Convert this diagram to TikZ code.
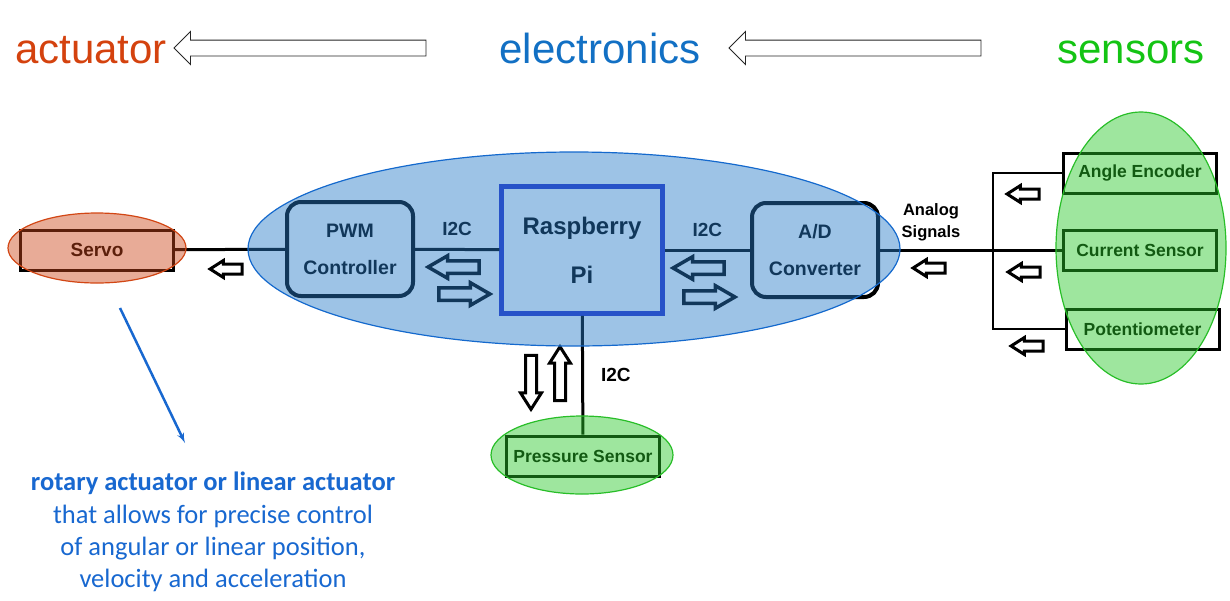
\documentclass[tikz,border=0pt]{standalone}
\usepackage{fontspec}
\setmainfont{Liberation Sans}
\newfontfamily\notefont{Carlito}
\usetikzlibrary{shapes,arrows,positioning}

\definecolor{actred}{RGB}{212,66,14}
\definecolor{elecblue}{RGB}{18,112,196}
\definecolor{sensgreen}{RGB}{20,196,20}
\definecolor{noteblue}{RGB}{24,104,208}
\definecolor{piblue}{RGB}{40,50,200}
\definecolor{actfill}{RGB}{205,70,25}
\definecolor{actedge}{RGB}{210,70,20}
\definecolor{elecfill}{RGB}{38,122,200}
\definecolor{elecedge}{RGB}{20,105,205}
\definecolor{sensfill}{RGB}{40,200,40}
\definecolor{sensedge}{RGB}{40,190,40}

\begin{document}
\begin{tikzpicture}[x=1pt, y=-1pt, auto, node distance=34pt, >=latex']
			\tikzset{
				title/.style={anchor=base, inner sep=0pt, font=\fontsize{42}{42}\selectfont},
				bigarrow/.style={single arrow, draw=black!85, line width=.9pt, fill=white, inner sep=0pt, inner ysep=7.5pt, single arrow head extend=8.5pt, minimum height=252pt, shape border rotate=180},
				part/.style={rectangle, draw=black, line width=3pt, fill=white, minimum width=153pt, minimum height=40pt, inner sep=0pt, font=\bfseries\fontsize{17.5}{17.5}\selectfont},
				board/.style={rectangle, rounded corners=14pt, draw=black, line width=4pt, minimum width=126pt, minimum height=94pt, align=center, font=\bfseries\fontsize{19.5}{37}\selectfont},
				pi/.style={rectangle, draw=piblue, line width=4.5pt, minimum width=161pt, minimum height=127pt, align=center, font=\bfseries\fontsize{24}{49}\selectfont},
				tag/.style={inner sep=0pt, align=center, font=\bfseries\fontsize{19}{22}\selectfont},
				flow/.style={single arrow, draw=black, line width=3pt, fill=white, inner sep=0pt, inner ysep=3.5pt, single arrow head extend=3.5pt, single arrow tip angle=65, minimum height=32pt},
				bus/.style={flow, line width=3.5pt, inner ysep=4.5pt, single arrow head extend=5pt, single arrow tip angle=60, minimum height=51pt},
				wire/.style={line width=3pt},
				group/.style={ellipse, line width=1.2pt, fill opacity=.45, inner sep=0pt},
				pointer/.style={->, line width=2.5pt, draw=noteblue},
				note/.style={align=center, text=noteblue, font=\notefont\fontsize{26.5}{32.3}\selectfont},
			}
			\useasboundingbox (0,0) rectangle (1230,600);
			%headings
			\node[title, text=actred](actuator) at (91,63){actuator};
			\node[title, text=elecblue](electronics) at (600,63){electronics};
			\node[title, text=sensgreen](sensors) at (1131,63){sensors};
			\node[bigarrow](toact) at (304,48){};
			\node[bigarrow](toelec) at (859,48){};
			%blocks
			\node[part, font=\bfseries\fontsize{19}{19}\selectfont](servo) at (97,250){Servo};
			\node[board](pwm) at (350,249){PWM\\Controller};
			\node[pi](pi) at (582,250){Raspberry\\Pi};
			\node[board](adc) at (815,250){A/D\\Converter};
			\node[part](current) at (1140,250){Current Sensor};
			\node[part, above=34pt of current](angle){Angle Encoder};
			\node[part, below=36pt of current, xshift=2.5pt](pot){Potentiometer};
			\node[part](press) at (583,456){Pressure Sensor};
			\coordinate (split) at (993,250);
			%draw wires
			\draw[wire] (servo) -- (pwm);
			\draw[wire] (pwm) -- node[tag, above=12pt]{I2C} (pi);
			\draw[wire] (pi) -- node[tag, above=12pt]{I2C} (adc);
			\draw[wire] (adc) -- (current);
			\draw[wire, line width=2.5pt] (angle.west) -| (split) |- (pot.west);
			\draw[wire] (pi) -- node[tag, right=17pt]{I2C} (press);
			\node[tag, font=\bfseries\fontsize{16.5}{22}\selectfont](analog) at (931,222){Analog\\Signals};
			%flow arrows
			\node[flow, shape border rotate=180](toservo) at (230,269){};
			\node[bus, shape border rotate=180](busin1) at (459,267){};
			\node[bus](busout1) at (459,294){};
			\node[bus, shape border rotate=180](busin2) at (704,268){};
			\node[bus](busout2) at (704,297){};
			\node[flow, rotate=-90, minimum height=54pt, inner ysep=4pt, single arrow head extend=5pt](busdown) at (531,378){};
			\node[flow, rotate=90, minimum height=54pt, inner ysep=4pt, single arrow head extend=5pt](busup) at (560,378){};
			\node[flow, shape border rotate=180](fromadc) at (933,268){};
			\node[flow, shape border rotate=180](fromangle) at (1027,194){};
			\node[flow, shape border rotate=180](fromcurrent) at (1028,272){};
			\node[flow, shape border rotate=180](frompot) at (1031,346){};
			%groups
			\node[group, draw=actedge, fill=actfill, minimum width=178pt, minimum height=70pt](actgroup) at (97,248){};
			\node[group, draw=elecedge, fill=elecfill, minimum width=652pt, minimum height=194pt](elecgroup) at (574,249){};
			\node[group, draw=sensedge, fill=sensfill, minimum width=170pt, minimum height=272pt](sensgroup) at (1141,248){};
			\node[group, draw=sensedge, fill=sensfill, minimum width=182pt, minimum height=78pt](pressgroup) at (582,455){};
			%note
			\node[note](servonote) at (213,532){\textbf{rotary actuator or linear actuator}\\that allows for precise control\\of angular or linear position,\\velocity and acceleration};
			\coordinate (ptrstart) at (120,308);
			\coordinate (ptrend) at (185,443);
			\draw[pointer] (ptrstart) -- (ptrend);
		\end{tikzpicture}
\end{document}
